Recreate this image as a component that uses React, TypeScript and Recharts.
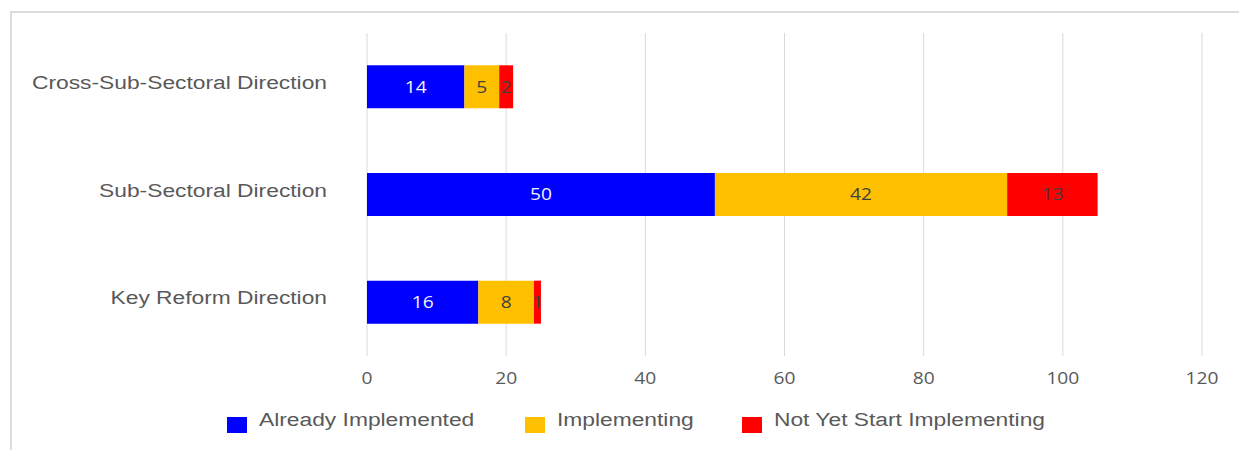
import { BarChart, Bar, XAxis, YAxis, CartesianGrid, LabelList } from "recharts";

const CATEGORIES = [
  "Cross-Sub-Sectoral Direction",
  "Sub-Sectoral Direction",
  "Key Reform Direction",
];
const ALREADY_IMPLEMENTED = [14, 50, 16];
const IMPLEMENTING = [5, 42, 8];
const NOT_YET_STARTED = [2, 13, 1];
const X_TICKS = [0, 20, 40, 60, 80, 100, 120];

const SERIES = [
  { key: "already", name: "Already Implemented", color: "#0000FF", label: "#F2F2F2" },
  { key: "implementing", name: "Implementing", color: "#FFC000", label: "#404040" },
  { key: "notYet", name: "Not Yet Start Implementing", color: "#FF0000", label: "#404040" },
];

const data = CATEGORIES.map((name, i) => ({
  name,
  already: ALREADY_IMPLEMENTED[i],
  implementing: IMPLEMENTING[i],
  notYet: NOT_YET_STARTED[i],
}));

// the source image is stretched sideways, so text gets a horizontal scale
const STRETCH = 1.2;
const TEXT_GRAY = "#595959";
const LABEL_FONT = "'Liberation Sans', Arial, sans-serif";
const NUM_FONT = "'Open Sans', sans-serif";

function CategoryTick({ x, y, payload }: any) {
  return (
    <g transform={`translate(${x},${y + 2}) scale(${STRETCH},1)`}>
      <text x={0} y={0} textAnchor="end" fill={TEXT_GRAY} fontSize={19} fontFamily={LABEL_FONT}>
        {payload.value}
      </text>
    </g>
  );
}

function ValueTick({ x, y, payload }: any) {
  return (
    <g transform={`translate(${x},${y + 28}) scale(${STRETCH},1)`}>
      <text x={0} y={0} textAnchor="middle" fill={TEXT_GRAY} fontSize={16} fontFamily={NUM_FONT}>
        {payload.value}
      </text>
    </g>
  );
}

function makeLabel(color: string) {
  return function BarLabel({ x, y, width, height, value }: any) {
    const cx = Number(x) + Number(width) / 2;
    const cy = Number(y) + Number(height) / 2;
    return (
      <g transform={`translate(${cx},${cy + 6}) scale(${STRETCH},1)`}>
        <text x={0} y={0} textAnchor="middle" fill={color} fontSize={16} fontFamily={NUM_FONT}>
          {value}
        </text>
      </g>
    );
  };
}

const LEGEND_X = [227, 525, 742];

function ChartLegend() {
  return (
    <svg width={1239} height={50} style={{ position: "absolute", left: 0, top: 400 }}>
      {SERIES.map((s, i) => (
        <g key={s.key}>
          <rect x={LEGEND_X[i]} y={17} width={20} height={16} fill={s.color} />
          <g transform={`translate(${LEGEND_X[i] + 32},${25.5}) scale(${STRETCH},1)`}>
            <text x={0} y={0} fill={TEXT_GRAY} fontSize={19} fontFamily={LABEL_FONT}>
              {s.name}
            </text>
          </g>
        </g>
      ))}
    </svg>
  );
}

export default function App() {
  return (
    <div
      style={{
        position: "absolute",
        left: 0,
        top: 0,
        width: 1239,
        height: 450,
        background: "#fff",
        overflow: "hidden",
      }}
    >
      <div
        style={{
          position: "absolute",
          left: 10,
          top: 11,
          width: 1260,
          height: 460,
          borderLeft: "2px solid #dcdcdc",
          borderTop: "2px solid #dcdcdc",
          boxSizing: "border-box",
        }}
      />
      <div style={{ position: "absolute", left: 0, top: 0 }}>
        <BarChart
          width={1239}
          height={450}
          data={data}
          layout="vertical"
          barCategoryGap="30%"
          margin={{ top: 33, right: 37, bottom: 64, left: 0 }}
        >
          <CartesianGrid horizontal={false} stroke="#d9d9d9" strokeWidth={1} />
          <XAxis
            type="number"
            domain={[0, 120]}
            ticks={X_TICKS}
            height={30}
            axisLine={false}
            tickLine={false}
            tickSize={0}
            tickMargin={0}
            tick={<ValueTick />}
          />
          <YAxis
            type="category"
            dataKey="name"
            width={367}
            axisLine={false}
            tickLine={false}
            tickSize={0}
            tickMargin={40}
            tick={<CategoryTick />}
          />
          {SERIES.map((s) => (
            <Bar
              key={s.key}
              dataKey={s.key}
              name={s.name}
              stackId="a"
              fill={s.color}
              isAnimationActive={false}
            >
              <LabelList dataKey={s.key} content={makeLabel(s.label)} />
            </Bar>
          ))}
        </BarChart>
      </div>
      <ChartLegend />
    </div>
  );
}
